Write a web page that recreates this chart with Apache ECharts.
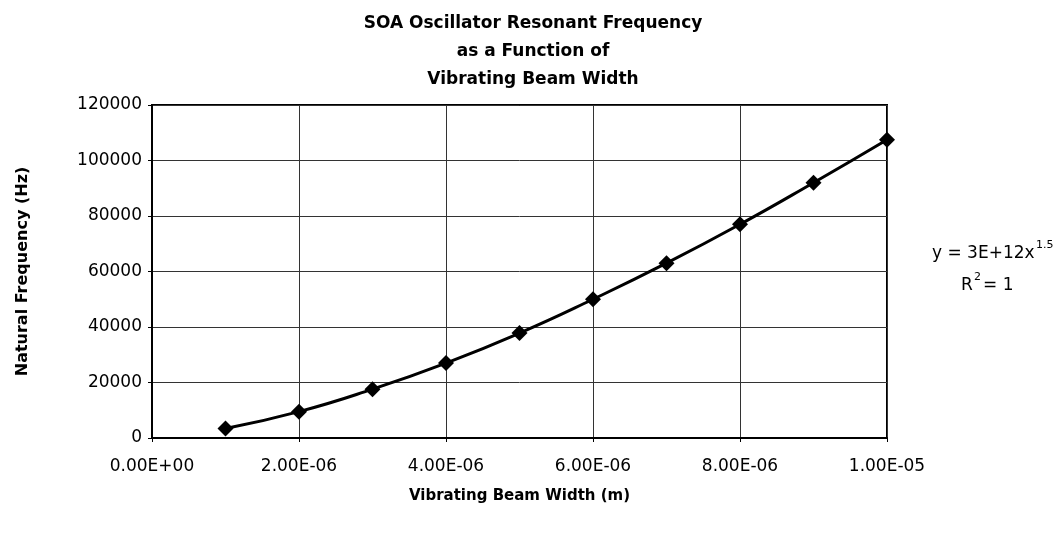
<!DOCTYPE html>
<html>
<head>
<meta charset="utf-8">
<script src="https://cdn.jsdelivr.net/npm/echarts@6/dist/echarts.min.js"></script>
<style>
  html, body { margin: 0; padding: 0; background: #fff; }
  #chart { width: 1059px; height: 539px; }
</style>
</head>
<body>
<div id="chart"></div>
<script>
// beam width (m) and natural frequency (Hz)
var widths = [1e-6, 2e-6, 3e-6, 4e-6, 5e-6, 6e-6, 7e-6, 8e-6, 9e-6, 1e-5];
var freqs = [3400, 9500, 17600, 27000, 37800, 50000, 63000, 77000, 92000, 107500];

var titleLines = ['SOA Oscillator Resonant Frequency', 'as a Function of', 'Vibrating Beam Width'];

var wide = 'DejaVu Sans, Verdana, sans-serif';

function sci(v) {
    var s = v.toExponential(2).toUpperCase();
    var parts = s.split('E');
    var exp = parseInt(parts[1], 10);
    var sign = exp < 0 ? '-' : '+';
    var a = Math.abs(exp);
    return parts[0] + 'E' + sign + (a < 10 ? '0' + a : a);
}

var chart = echarts.init(document.getElementById('chart'));

function txt(x, y, s, size) {
    return {
        type: 'text',
        x: x,
        y: y,
        style: {
            text: s,
            fontFamily: wide,
            fontSize: size,
            fill: '#000',
            verticalAlign: 'middle'
        }
    };
}

var option = {
    backgroundColor: '#fff',
    animation: false,
    title: {
        text: titleLines.join('\n'),
        left: 528,
        textAlign: 'center',
        top: 5,
        textStyle: {
            fontFamily: wide,
            fontSize: 17,
            fontWeight: 'bold',
            color: '#000',
            lineHeight: 28
        }
    },
    grid: {
        left: 152,
        right: 172,
        top: 105,
        bottom: 101,
        show: true,
        borderColor: '#000',
        borderWidth: 2
    },
    xAxis: {
        type: 'value',
        min: 0,
        max: 1e-5,
        interval: 2e-6,
        name: 'Vibrating Beam Width (m)',
        nameLocation: 'middle',
        nameGap: 51,
        nameTextStyle: { fontFamily: wide, fontSize: 15, fontWeight: 'bold', color: '#000' },
        axisLine: { lineStyle: { color: '#000', width: 2 } },
        axisTick: { show: true, length: 4, lineStyle: { color: '#000' } },
        axisLabel: {
            fontFamily: wide, fontSize: 17, color: '#000', margin: 20,
            formatter: function (v) { return sci(v); }
        },
        splitLine: { show: true, lineStyle: { color: '#333', width: 1 } }
    },
    yAxis: {
        type: 'value',
        min: 0,
        max: 120000,
        interval: 20000,
        name: 'Natural Frequency (Hz)',
        nameLocation: 'middle',
        nameGap: 121,
        nameTextStyle: { fontFamily: wide, fontSize: 16, fontWeight: 'bold', color: '#000' },
        axisLine: { lineStyle: { color: '#000', width: 2 } },
        axisTick: { show: true, length: 4, lineStyle: { color: '#000' } },
        axisLabel: {
            fontFamily: wide, fontSize: 17, color: '#000', margin: 10,
            formatter: function (v) { return String(v); }
        },
        splitLine: { show: true, lineStyle: { color: '#333', width: 1 } }
    },
    series: [{
        type: 'line',
        data: widths.map(function (w, i) { return [w, freqs[i]]; }),
        smooth: true,
        symbol: 'diamond',
        symbolSize: 16,
        lineStyle: { color: '#000', width: 3 },
        itemStyle: { color: '#000' }
    }],
    graphic: [
        txt(932, 254, 'y = 3E+12x', 17),
        txt(1036, 245, '1.5', 11),
        txt(961, 286, 'R', 17),
        txt(974, 277, '2', 11),
        txt(983, 286, '= 1', 17)
    ]
};

chart.setOption(option);
</script>
</body>
</html>
